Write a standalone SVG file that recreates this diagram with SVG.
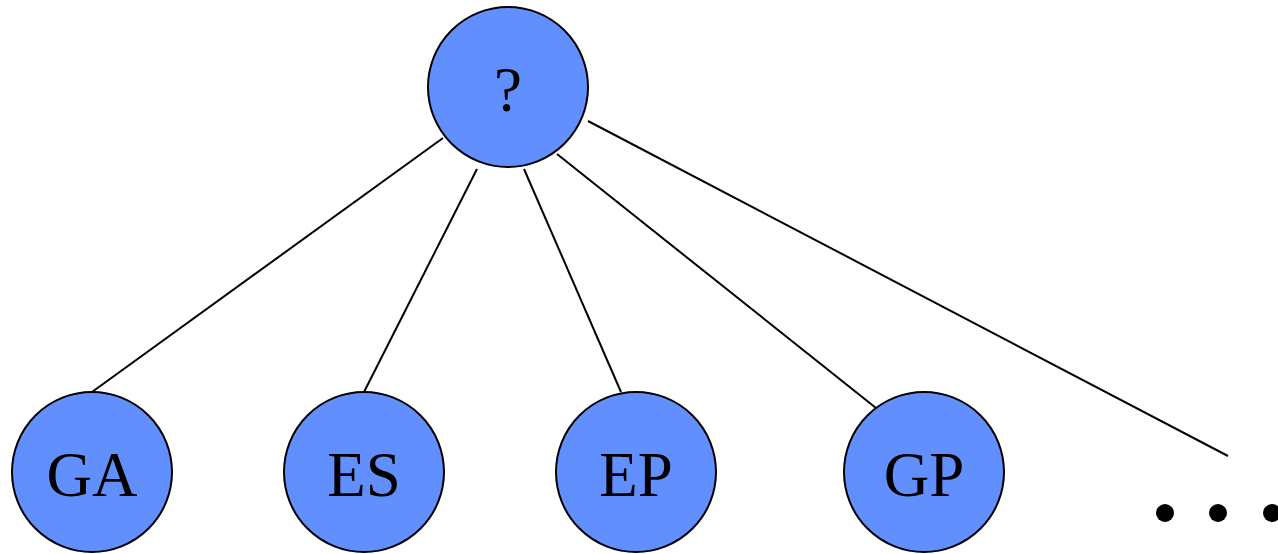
<svg xmlns="http://www.w3.org/2000/svg" width="1278" height="554" viewBox="0 0 1278 554">
<style>
.node circle{fill:#6190fe;stroke:#000;stroke-width:2}
.node text{font-family:"Liberation Serif","Times New Roman",serif;font-size:63px;text-anchor:middle;fill:#000}
.edges line{stroke:#000;stroke-width:2}
.dot{fill:#000}
</style>
<rect width="1278" height="554" fill="#fff"/>
<g class="edges">
<line x1="443" y1="138" x2="92" y2="392"/>
<line x1="477" y1="169" x2="364" y2="392"/>
<line x1="524" y1="169" x2="621" y2="392"/>
<line x1="557" y1="154" x2="876" y2="408"/>
<line x1="588" y1="121" x2="1228" y2="456"/>
</g>
<g id="root" class="node"><circle cx="508" cy="87" r="80"/><text x="508" y="111">?</text></g>
<g id="GA" class="node"><circle cx="92" cy="472" r="80"/><text x="92" y="496">GA</text></g>
<g id="ES" class="node"><circle cx="364" cy="472" r="80"/><text x="364" y="496">ES</text></g>
<g id="EP" class="node"><circle cx="636" cy="472" r="80"/><text x="636" y="496">EP</text></g>
<g id="GP" class="node"><circle cx="924" cy="472" r="80"/><text x="924" y="496">GP</text></g>
<g id="more">
<circle class="dot" cx="1165" cy="513" r="9"/>
<circle class="dot" cx="1218" cy="513" r="9"/>
<circle class="dot" cx="1272" cy="513" r="9"/>
</g>
</svg>
